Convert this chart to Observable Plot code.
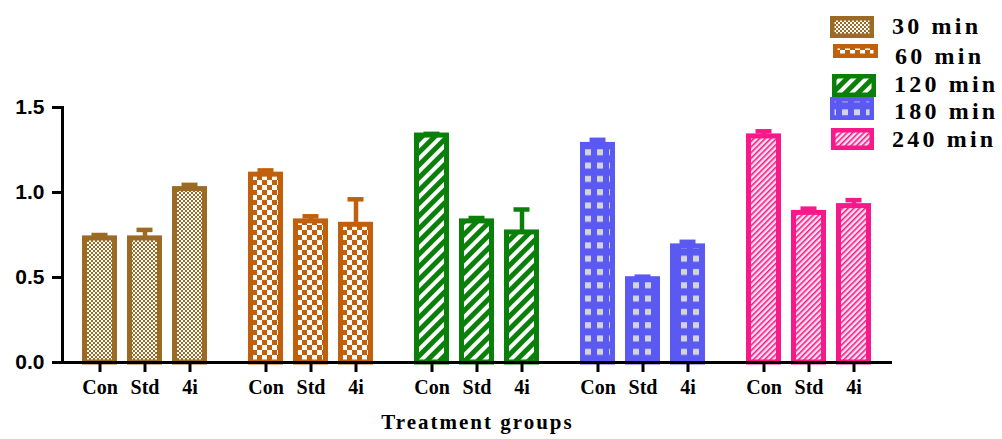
<!DOCTYPE html>
<html><head><meta charset="utf-8">
<script src="https://cdn.jsdelivr.net/npm/d3@7"></script>
<script src="https://cdn.jsdelivr.net/npm/@observablehq/plot@0.6"></script>
<style>body{margin:0;background:#fff}#chart svg{display:block}</style>
</head><body><div id="chart"></div>
<script>
const groups = ["30 min", "60 min", "120 min", "180 min", "240 min"];
const treatments = ["Con", "Std", "4i"];
const mean30 = [0.73, 0.73, 1.02];
const sem30 = [0.02, 0.05, 0.025];
const mean60 = [1.105, 0.83, 0.81];
const sem60 = [0.025, 0.03, 0.15];
const mean120 = [1.335, 0.83, 0.765];
const sem120 = [0.01, 0.02, 0.135];
const mean180 = [1.28, 0.49, 0.683];
const sem180 = [0.03, 0.015, 0.027];
const mean240 = [1.33, 0.88, 0.92];
const sem240 = [0.03, 0.025, 0.035];
const yTicks = [0, 0.5, 1.0, 1.5];
const xLabel = "Treatment groups";
const colors = ["#9b6a25", "#c0600c", "#0a800a", "#5a5af2", "#f7198a"];

const means = [mean30, mean60, mean120, mean180, mean240];
const sems = [sem30, sem60, sem120, sem180, sem240];
const rows = groups.flatMap((g, gi) => treatments.map((t, ti) => ({
  group: g, gi, treatment: t, mean: means[gi][ti], sem: sems[gi][ti]
})));
const patUrl = d => `url(#pat${d.gi})`;
const col = d => colors[d.gi];

const svg = Plot.plot({
  width: 1002, height: 439,
  marginLeft: 61, marginRight: 110, marginTop: 107, marginBottom: 77,
  style: {background: "#fff", color: "#000", overflow: "visible"},
  fx: {domain: groups, padding: 0, axis: null},
  x: {domain: treatments, paddingInner: 0.222, paddingOuter: 0.455},
  y: {domain: [0, 1.5]},
  color: {type: "identity"},
  marks: [
    Plot.barY(rows, {fx: "group", x: "treatment", y: "mean", fill: patUrl, stroke: col, strokeWidth: 5, insetLeft: 2.5, insetRight: 2.5}),
    Plot.ruleX(rows, {fx: "group", x: "treatment", y1: "mean", y2: d => d.mean + d.sem, stroke: col, strokeWidth: 4.5}),
    Plot.tickY(rows, {fx: "group", x: "treatment", y: d => d.mean + d.sem, stroke: col, strokeWidth: 4.5, insetLeft: 9.5, insetRight: 9.5}),
    Plot.ruleY([0], {strokeWidth: 3, stroke: "#000"}),
    Plot.frame({anchor: "left", strokeWidth: 3, stroke: "#000", facetAnchor: "left"}),
    Plot.axisY({ticks: yTicks, tickFormat: d3.format(".1f"), tickSize: 10, tickPadding: 8, strokeWidth: 3, fontSize: 21, fontWeight: "bold", fontFamily: "'Liberation Sans', Arial, sans-serif", label: null}),
    Plot.axisX({tickSize: 10, tickPadding: 7, strokeWidth: 3, fontSize: 20, fontWeight: "bold", fontFamily: "'Liberation Serif', 'Times New Roman', serif", label: null}),
    Plot.text([xLabel], {text: d => d, frameAnchor: "bottom", facet: "super", dy: 66, fontSize: 21, fontWeight: "bold", fontFamily: "'Liberation Serif', 'Times New Roman', serif"})
  ]
});

const root = d3.select(svg);
const defs = root.insert("defs", ":first-child");
function pat(id, w, h, transform) {
  const p = defs.append("pattern").attr("id", id).attr("patternUnits", "userSpaceOnUse").attr("width", w).attr("height", h);
  if (transform) p.attr("patternTransform", transform);
  return p;
}
// 30 min: fine checker
let p = pat("pat0", 4, 4);
p.append("rect").attr("width", 4).attr("height", 4).attr("fill", colors[0]);
p.append("rect").attr("width", 2).attr("height", 2).attr("fill", "#fff");
p.append("rect").attr("x", 2).attr("y", 2).attr("width", 2).attr("height", 2).attr("fill", "#fff");
// 60 min: coarse checker
p = pat("pat1", 10, 10);
p.append("rect").attr("width", 10).attr("height", 10).attr("fill", colors[1]);
p.append("rect").attr("x", 0).attr("y", 0).attr("width", 5).attr("height", 5).attr("fill", "#fff");
p.append("rect").attr("x", 5).attr("y", 5).attr("width", 5).attr("height", 5).attr("fill", "#fff");
// 120 min: wide diagonal stripes
p = pat("pat2", 9, 9, "rotate(45)");
p.append("rect").attr("width", 9).attr("height", 9).attr("fill", colors[2]);
p.append("rect").attr("width", 4).attr("height", 9).attr("fill", "#fff");
// 180 min: grey squares on blue
p = pat("pat3", 12, 13.3);
p.append("rect").attr("width", 12).attr("height", 13.3).attr("fill", colors[3]);
p.append("rect").attr("x", 2).attr("y", 3).attr("width", 6).attr("height", 6).attr("fill", "#d4d4dc");
// 240 min: fine hatch
p = pat("pat4", 4, 4, "rotate(45)");
p.append("rect").attr("width", 4).attr("height", 4).attr("fill", "#fde3ee");
p.append("rect").attr("width", 1.6).attr("height", 4).attr("fill", colors[4]);

root.selectAll("text").filter(function() { return this.textContent === xLabel; }).attr("letter-spacing", 2);

// legend
const legendBoxes = [[830, 16, 44, 22], [833, 44, 45, 14], [832, 74, 44, 23], [830, 97, 44, 23], [831, 128, 43, 22]];
const legendTextPos = [[892, 34], [895, 64], [894, 92], [894, 119], [892, 147]];
const lg = root.append("g").attr("class", "legend").attr("text-anchor", "start");
groups.forEach((g, i) => {
  const [x, y, w, h] = legendBoxes[i];
  lg.append("rect").attr("x", x + 2.25).attr("y", y + 2.25).attr("width", w - 4.5).attr("height", h - 4.5)
    .attr("fill", `url(#pat${i})`).attr("stroke", colors[i]).attr("stroke-width", 4.5);
  lg.append("text").attr("x", legendTextPos[i][0]).attr("y", legendTextPos[i][1])
    .attr("text-anchor", "start")
    .attr("font-family", "'Liberation Serif', 'Times New Roman', serif").attr("font-weight", "bold")
    .attr("font-size", 24).attr("letter-spacing", 3.2).attr("fill", "#000").text(g);
});

document.getElementById("chart").appendChild(svg);
</script>
</body></html>
